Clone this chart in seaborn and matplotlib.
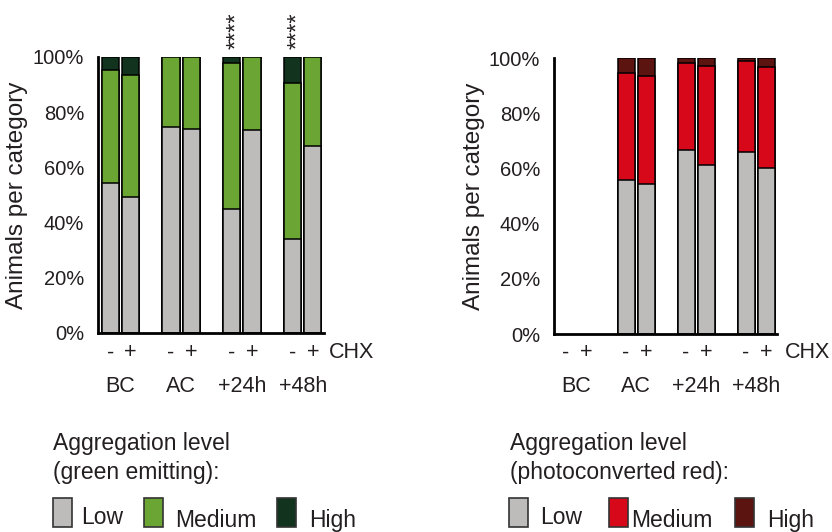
import numpy as np
import pandas as pd
import matplotlib
matplotlib.use("Agg")
import matplotlib.pyplot as plt
import matplotlib.transforms as mtransforms
from matplotlib.patches import Rectangle
import seaborn as sns

# values (percent of animals per category)
groups = ["BC", "AC", "+24h", "+48h"]
chx_labels = ["-", "+"]

green_low = [54.5, 49.4, 74.7, 73.9, 45.1, 73.5, 34.0, 67.7]
green_medium = [40.9, 44.2, 25.3, 26.1, 52.9, 26.5, 56.6, 32.3]
green_high = [4.6, 6.4, 0.0, 0.0, 2.0, 0.0, 9.4, 0.0]

red_low = [np.nan, np.nan, 55.9, 54.2, 66.5, 61.1, 65.9, 60.1]
red_medium = [np.nan, np.nan, 38.7, 39.2, 31.7, 35.9, 33.1, 36.6]
red_high = [np.nan, np.nan, 5.4, 6.6, 1.8, 3.0, 1.0, 3.3]

level_names = ["Low", "Medium", "High"]
signif_labels = ["", "", "", "", "****", "", "****", ""]

green_colors = ["#bdbcba", "#6ba534", "#12341f"]
red_colors = ["#bdbcba", "#d7081a", "#5c1410"]
text_color = "#231f20"

W, H = 832, 532


def fx(px):
    return px / W


def fy(py):
    return 1 - py / H


sns.set_style("white")
plt.rcParams["font.family"] = ["Liberation Sans", "DejaVu Sans"]
plt.rcParams["text.color"] = text_color
plt.rcParams["axes.labelcolor"] = text_color
plt.rcParams["xtick.color"] = "black"
plt.rcParams["ytick.color"] = "black"
plt.rcParams["xtick.labelcolor"] = text_color
plt.rcParams["ytick.labelcolor"] = text_color

fig = plt.figure(figsize=(W / 100, H / 100), dpi=100)

# bar slots: 2 per group, one empty slot between groups
positions = [3 * g + j for g in range(len(groups)) for j in range(len(chx_labels))]
edges = [3 * g + e for g in range(len(groups)) for e in (-0.5, 1.5)]


def draw_panel(ax, low, medium, high, colors, chx_x):
    df = pd.DataFrame({"pos": positions, "low": low, "medium": medium, "high": high}).dropna()
    df["mid_top"] = df["low"] + df["medium"]
    df["top"] = df["mid_top"] + df["high"]
    # stacked bars drawn as overlapping cumulative bars
    for col, c in zip(["top", "mid_top", "low"], colors[::-1]):
        sns.barplot(data=df, x="pos", y=col, native_scale=True, width=0.85,
                    color=c, saturation=1, edgecolor="black", linewidth=1.1,
                    errorbar=None, ax=ax)

    ax.set_xlim(-0.6, 10.55)
    ax.set_ylim(0, 100)
    ax.set_yticks(range(0, 101, 20))
    ax.set_yticklabels([f"{v}%" for v in range(0, 101, 20)], fontsize=14.5)
    ax.set_xticks(edges)
    ax.set_xticklabels([])
    ax.tick_params(axis="x", direction="in", length=4, width=2)
    ax.tick_params(axis="y", direction="out", length=5, width=1.5, pad=5)
    ax.set_xlabel("")
    ax.set_ylabel("Animals per category", fontsize=17.5)
    ax.yaxis.set_label_coords(-0.31, 0.5)
    for side in ["top", "right"]:
        ax.spines[side].set_visible(False)
    for side in ["left", "bottom"]:
        ax.spines[side].set_linewidth(2)
        ax.spines[side].set_color("black")

    trans = mtransforms.blended_transform_factory(ax.transData, fig.transFigure)
    for i, p in enumerate(positions):
        ax.text(p, fy(353), chx_labels[i % 2], transform=trans, ha="center",
                va="center", fontsize=15.5)
    for g, name in enumerate(groups):
        ax.text(3 * g + 0.5, fy(386), name, transform=trans, ha="center",
                va="center", fontsize=15.5)
    fig.text(fx(chx_x), fy(353), "CHX", ha="left", va="center", fontsize=15.5)


def draw_legend(x0, title_lines, colors, box_x, text_x):
    for line, base in zip(title_lines, [450, 479]):
        fig.text(fx(x0), fy(base), line, ha="left", va="baseline", fontsize=16.5)
    for name, c, bx, tx in zip(level_names, colors, box_x, text_x):
        fig.patches.append(Rectangle((fx(bx), fy(527)), fx(19), 29 / H,
                                     transform=fig.transFigure, facecolor=c,
                                     edgecolor="#333333", linewidth=1.2))
        base = 524 if name == "Low" else 527
        fig.text(fx(tx), fy(base), name, ha="left", va="baseline", fontsize=16.5)


ax1 = fig.add_axes([fx(98), fy(333), fx(226), 276 / H])
draw_panel(ax1, green_low, green_medium, green_high, green_colors, 329)
# significance stars, written vertically above the bar
for p, s in zip(positions, signif_labels):
    if s:
        ax1.annotate(s, xy=(p, 100), xytext=(5.3, 8), textcoords="offset pixels",
                     rotation=90, ha="center", va="bottom", fontsize=17,
                     annotation_clip=False)

ax2 = fig.add_axes([fx(554), fy(334), fx(223), 276 / H])
draw_panel(ax2, red_low, red_medium, red_high, red_colors, 785)

draw_legend(53, ["Aggregation level", "(green emitting):"], green_colors,
            [53, 144, 277], [81, 175, 309])
draw_legend(510, ["Aggregation level", "(photoconverted red):"], red_colors,
            [509, 609, 735], [540, 631, 767])

fig.savefig("out.png", dpi=100)
